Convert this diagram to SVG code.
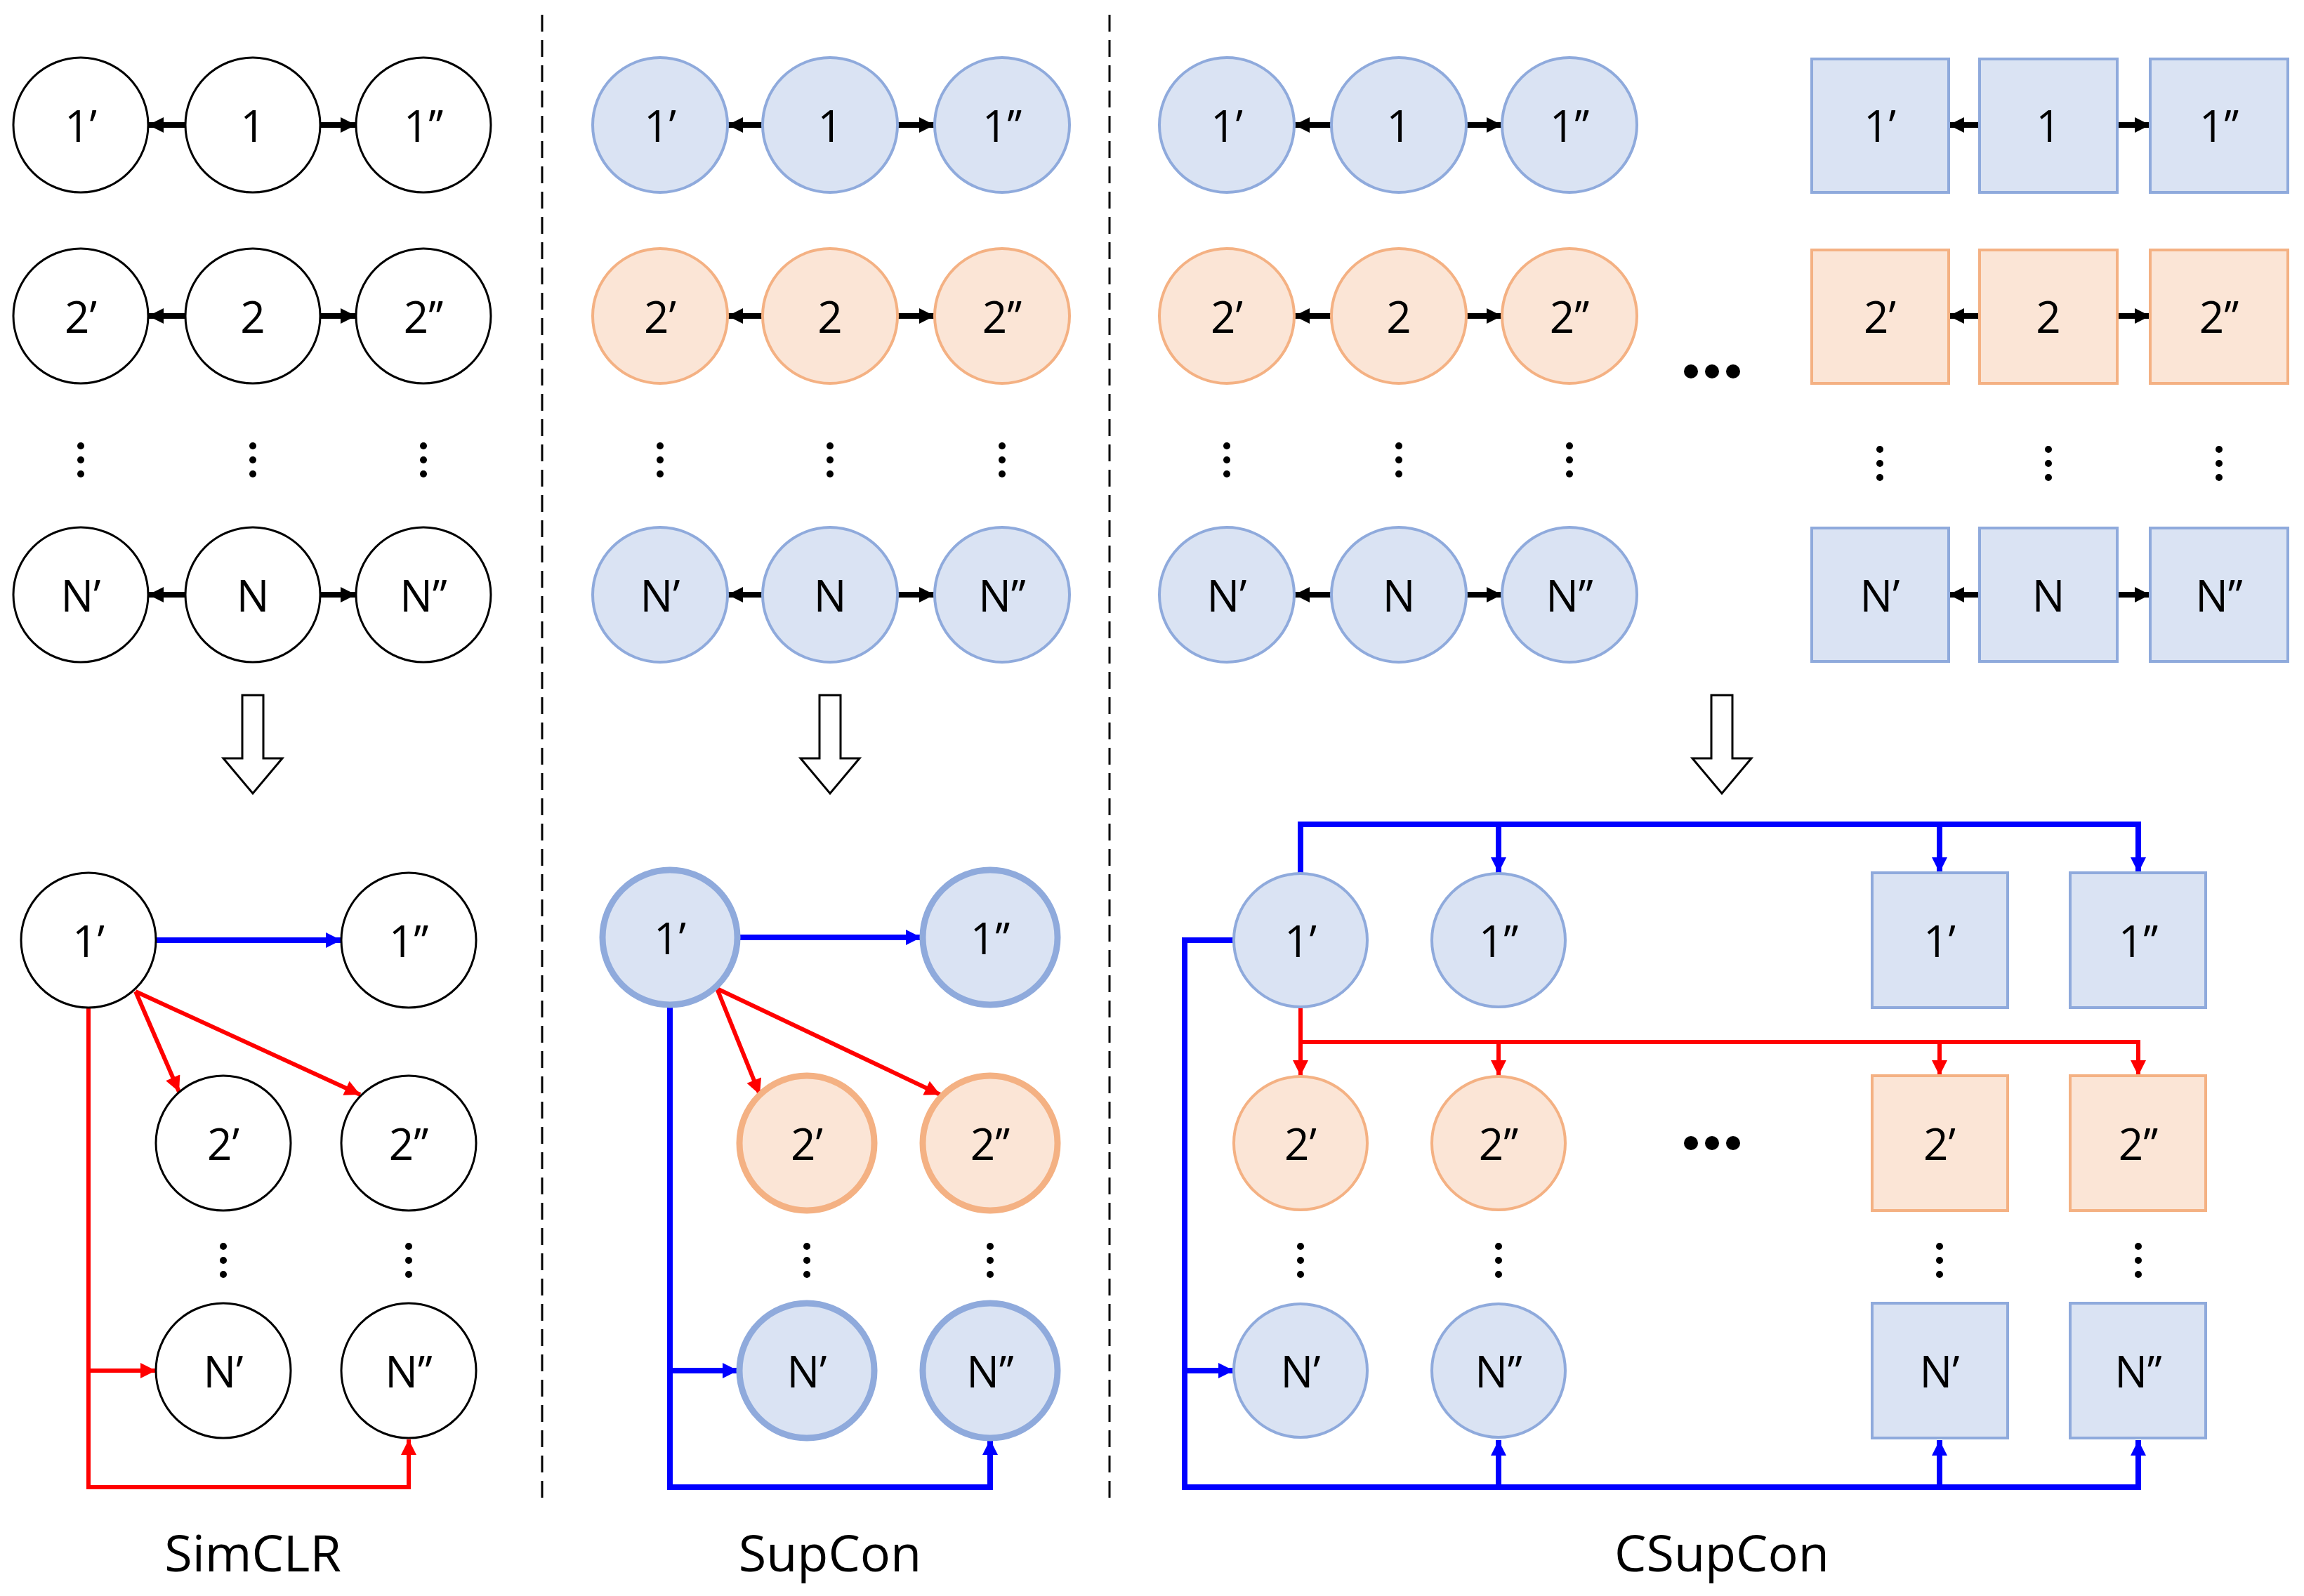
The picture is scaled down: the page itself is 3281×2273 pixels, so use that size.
<svg xmlns="http://www.w3.org/2000/svg" width="3281" height="2273" viewBox="0 0 3281 2273">
<style>
text{font-family:"Open Sans","Liberation Sans",sans-serif;text-anchor:middle;dominant-baseline:central;fill:#000}
.n{font-size:62px}
.lb{font-size:72px}
.w{fill:#fff;stroke:#000;stroke-width:3}
.b{fill:#dae3f3;stroke:#8faadc;stroke-width:4}
.o{fill:#fbe5d6;stroke:#f4b183;stroke-width:4}
.bt{stroke-width:9}
.k{stroke:#000;stroke-width:8;fill:none}
.bl{stroke:#0000ff;stroke-width:8;fill:none}
.rd{stroke:#ff0000;stroke-width:6;fill:none}
.dash{stroke:#000;stroke-width:3;stroke-dasharray:24 12}
.ha{fill:#fff;stroke:#000;stroke-width:3}
</style>
<defs>
<marker id="mk" viewBox="0 0 10 10" refX="10" refY="5" markerUnits="userSpaceOnUse" markerWidth="22" markerHeight="24" orient="auto"><path d="M0,0L10,5L0,10z" fill="#000"/></marker>
<marker id="mb" viewBox="0 0 10 10" refX="10" refY="5" markerUnits="userSpaceOnUse" markerWidth="26" markerHeight="22" orient="auto"><path d="M0,0L10,5L0,10z" fill="#0000ff"/></marker>
<marker id="mr" viewBox="0 0 10 10" refX="10" refY="5" markerUnits="userSpaceOnUse" markerWidth="26" markerHeight="22" orient="auto"><path d="M0,0L10,5L0,10z" fill="#ff0000"/></marker>
<g id="vd"><circle cx="0" cy="-20" r="5"/><circle cx="0" cy="0" r="5"/><circle cx="0" cy="20" r="5"/></g>
<g id="hd"><circle cx="-30" cy="0" r="10"/><circle cx="0" cy="0" r="10"/><circle cx="30" cy="0" r="10"/></g>
<polygon id="ha" class="ha" points="-15,990 15,990 15,1080 42,1080 0,1130 -42,1080 -15,1080"/>
</defs>
<rect width="3281" height="2273" fill="#fff"/>
<line class="dash" x1="772" y1="21" x2="772" y2="2134"/>
<line class="dash" x1="1580" y1="21" x2="1580" y2="2134"/>

<g id="connectors">
<!-- top black arrows -->
<g class="k">
<line x1="264" y1="178" x2="211" y2="178" marker-end="url(#mk)"/><line x1="456" y1="178" x2="507" y2="178" marker-end="url(#mk)"/>
<line x1="264" y1="450" x2="211" y2="450" marker-end="url(#mk)"/><line x1="456" y1="450" x2="507" y2="450" marker-end="url(#mk)"/>
<line x1="264" y1="847" x2="211" y2="847" marker-end="url(#mk)"/><line x1="456" y1="847" x2="507" y2="847" marker-end="url(#mk)"/>
<line x1="1086" y1="178" x2="1036" y2="178" marker-end="url(#mk)"/><line x1="1278" y1="178" x2="1331" y2="178" marker-end="url(#mk)"/>
<line x1="1086" y1="450" x2="1036" y2="450" marker-end="url(#mk)"/><line x1="1278" y1="450" x2="1331" y2="450" marker-end="url(#mk)"/>
<line x1="1086" y1="847" x2="1036" y2="847" marker-end="url(#mk)"/><line x1="1278" y1="847" x2="1331" y2="847" marker-end="url(#mk)"/>
<line x1="1896" y1="178" x2="1843" y2="178" marker-end="url(#mk)"/><line x1="2088" y1="178" x2="2139" y2="178" marker-end="url(#mk)"/>
<line x1="1896" y1="450" x2="1843" y2="450" marker-end="url(#mk)"/><line x1="2088" y1="450" x2="2139" y2="450" marker-end="url(#mk)"/>
<line x1="1896" y1="847" x2="1843" y2="847" marker-end="url(#mk)"/><line x1="2088" y1="847" x2="2139" y2="847" marker-end="url(#mk)"/>
<line x1="2819" y1="178" x2="2775" y2="178" marker-end="url(#mk)"/><line x1="3015" y1="178" x2="3062" y2="178" marker-end="url(#mk)"/>
<line x1="2819" y1="450" x2="2775" y2="450" marker-end="url(#mk)"/><line x1="3015" y1="450" x2="3062" y2="450" marker-end="url(#mk)"/>
<line x1="2819" y1="847" x2="2775" y2="847" marker-end="url(#mk)"/><line x1="3015" y1="847" x2="3062" y2="847" marker-end="url(#mk)"/>
</g>
<!-- SimCLR -->
<line class="bl" x1="222" y1="1339" x2="486" y2="1339" stroke-width="6" marker-end="url(#mb)"/>
<line class="rd" x1="193" y1="1412" x2="255" y2="1555" marker-end="url(#mr)"/>
<line class="rd" x1="193" y1="1412" x2="513" y2="1559" marker-end="url(#mr)"/>
<polyline class="rd" points="126,1435 126,2118 582,2118 582,2050" marker-end="url(#mr)"/>
<line class="rd" x1="126" y1="1952" x2="222" y2="1952" marker-end="url(#mr)"/>
<!-- SupCon -->
<line class="bl" x1="1052" y1="1335" x2="1312" y2="1335" stroke-width="6" marker-end="url(#mb)"/>
<line class="rd" x1="1021" y1="1408" x2="1082" y2="1559" marker-end="url(#mr)"/>
<line class="rd" x1="1021" y1="1408" x2="1339" y2="1559" marker-end="url(#mr)"/>
<polyline class="bl" points="954,1433 954,2118 1410,2118 1410,2050" marker-end="url(#mb)"/>
<line class="bl" x1="954" y1="1952" x2="1051" y2="1952" marker-end="url(#mb)"/>
<!-- CSupCon -->
<polyline class="bl" points="1852,1243 1852,1174 3045,1174 3045,1243" marker-end="url(#mb)"/>
<line class="bl" x1="2134" y1="1174" x2="2134" y2="1243" marker-end="url(#mb)"/>
<line class="bl" x1="2762" y1="1174" x2="2762" y2="1243" marker-end="url(#mb)"/>
<polyline class="rd" points="1852,1435 1852,1484 3045,1484 3045,1532" marker-end="url(#mr)"/>
<line class="rd" x1="1852" y1="1484" x2="1852" y2="1532" marker-end="url(#mr)"/>
<line class="rd" x1="2134" y1="1484" x2="2134" y2="1532" marker-end="url(#mr)"/>
<line class="rd" x1="2762" y1="1484" x2="2762" y2="1532" marker-end="url(#mr)"/>
<polyline class="bl" points="1757,1339 1687,1339 1687,2118 3045,2118 3045,2051" marker-end="url(#mb)"/>
<line class="bl" x1="2134" y1="2118" x2="2134" y2="2051" marker-end="url(#mb)"/>
<line class="bl" x1="2762" y1="2118" x2="2762" y2="2051" marker-end="url(#mb)"/>
<line class="bl" x1="1687" y1="1952" x2="1757" y2="1952" marker-end="url(#mb)"/>
</g>

<!-- SimCLR top -->
<g id="s1p"><circle class="w" cx="115" cy="178" r="96"/><text class="n" x="115" y="178">1’</text></g>
<g id="s1"><circle class="w" cx="360" cy="178" r="96"/><text class="n" x="360" y="178">1</text></g>
<g id="s1pp"><circle class="w" cx="603" cy="178" r="96"/><text class="n" x="603" y="178">1’’</text></g>
<g id="s2p"><circle class="w" cx="115" cy="450" r="96"/><text class="n" x="115" y="450">2’</text></g>
<g id="s2"><circle class="w" cx="360" cy="450" r="96"/><text class="n" x="360" y="450">2</text></g>
<g id="s2pp"><circle class="w" cx="603" cy="450" r="96"/><text class="n" x="603" y="450">2’’</text></g>
<g id="sNp"><circle class="w" cx="115" cy="847" r="96"/><text class="n" x="115" y="847">N’</text></g>
<g id="sN"><circle class="w" cx="360" cy="847" r="96"/><text class="n" x="360" y="847">N</text></g>
<g id="sNpp"><circle class="w" cx="603" cy="847" r="96"/><text class="n" x="603" y="847">N’’</text></g>
<use href="#vd" x="115" y="655"/><use href="#vd" x="360" y="655"/><use href="#vd" x="603" y="655"/>
<use href="#ha" x="360" y="0"/>
<!-- SimCLR bottom -->
<g id="sb1p"><circle class="w" cx="126" cy="1339" r="96"/><text class="n" x="126" y="1339">1’</text></g>
<g id="sb1pp"><circle class="w" cx="582" cy="1339" r="96"/><text class="n" x="582" y="1339">1’’</text></g>
<g id="sb2p"><circle class="w" cx="318" cy="1628" r="96"/><text class="n" x="318" y="1628">2’</text></g>
<g id="sb2pp"><circle class="w" cx="582" cy="1628" r="96"/><text class="n" x="582" y="1628">2’’</text></g>
<g id="sbNp"><circle class="w" cx="318" cy="1952" r="96"/><text class="n" x="318" y="1952">N’</text></g>
<g id="sbNpp"><circle class="w" cx="582" cy="1952" r="96"/><text class="n" x="582" y="1952">N’’</text></g>
<use href="#vd" x="318" y="1795"/><use href="#vd" x="582" y="1795"/>
<text class="lb" x="360" y="2210">SimCLR</text>

<!-- SupCon top -->
<g id="u1p"><circle class="b" cx="940" cy="178" r="96"/><text class="n" x="940" y="178">1’</text></g>
<g id="u1"><circle class="b" cx="1182" cy="178" r="96"/><text class="n" x="1182" y="178">1</text></g>
<g id="u1pp"><circle class="b" cx="1427" cy="178" r="96"/><text class="n" x="1427" y="178">1’’</text></g>
<g id="u2p"><circle class="o" cx="940" cy="450" r="96"/><text class="n" x="940" y="450">2’</text></g>
<g id="u2"><circle class="o" cx="1182" cy="450" r="96"/><text class="n" x="1182" y="450">2</text></g>
<g id="u2pp"><circle class="o" cx="1427" cy="450" r="96"/><text class="n" x="1427" y="450">2’’</text></g>
<g id="uNp"><circle class="b" cx="940" cy="847" r="96"/><text class="n" x="940" y="847">N’</text></g>
<g id="uN"><circle class="b" cx="1182" cy="847" r="96"/><text class="n" x="1182" y="847">N</text></g>
<g id="uNpp"><circle class="b" cx="1427" cy="847" r="96"/><text class="n" x="1427" y="847">N’’</text></g>
<use href="#vd" x="940" y="655"/><use href="#vd" x="1182" y="655"/><use href="#vd" x="1427" y="655"/>
<use href="#ha" x="1182" y="0"/>
<!-- SupCon bottom -->
<g id="ub1p"><circle class="b bt" cx="954" cy="1335" r="96"/><text class="n" x="954" y="1335">1’</text></g>
<g id="ub1pp"><circle class="b bt" cx="1410" cy="1335" r="96"/><text class="n" x="1410" y="1335">1’’</text></g>
<g id="ub2p"><circle class="o bt" cx="1149" cy="1628" r="96"/><text class="n" x="1149" y="1628">2’</text></g>
<g id="ub2pp"><circle class="o bt" cx="1410" cy="1628" r="96"/><text class="n" x="1410" y="1628">2’’</text></g>
<g id="ubNp"><circle class="b bt" cx="1149" cy="1952" r="96"/><text class="n" x="1149" y="1952">N’</text></g>
<g id="ubNpp"><circle class="b bt" cx="1410" cy="1952" r="96"/><text class="n" x="1410" y="1952">N’’</text></g>
<use href="#vd" x="1149" y="1795"/><use href="#vd" x="1410" y="1795"/>
<text class="lb" x="1182" y="2210">SupCon</text>

<!-- CSupCon top -->
<g id="c1p"><circle class="b" cx="1747" cy="178" r="96"/><text class="n" x="1747" y="178">1’</text></g>
<g id="c1"><circle class="b" cx="1992" cy="178" r="96"/><text class="n" x="1992" y="178">1</text></g>
<g id="c1pp"><circle class="b" cx="2235" cy="178" r="96"/><text class="n" x="2235" y="178">1’’</text></g>
<g id="c2p"><circle class="o" cx="1747" cy="450" r="96"/><text class="n" x="1747" y="450">2’</text></g>
<g id="c2"><circle class="o" cx="1992" cy="450" r="96"/><text class="n" x="1992" y="450">2</text></g>
<g id="c2pp"><circle class="o" cx="2235" cy="450" r="96"/><text class="n" x="2235" y="450">2’’</text></g>
<g id="cNp"><circle class="b" cx="1747" cy="847" r="96"/><text class="n" x="1747" y="847">N’</text></g>
<g id="cN"><circle class="b" cx="1992" cy="847" r="96"/><text class="n" x="1992" y="847">N</text></g>
<g id="cNpp"><circle class="b" cx="2235" cy="847" r="96"/><text class="n" x="2235" y="847">N’’</text></g>
<use href="#vd" x="1747" y="655"/><use href="#vd" x="1992" y="655"/><use href="#vd" x="2235" y="655"/>
<g id="q1p"><rect class="b" x="2580" y="84" width="195" height="190"/><text class="n" x="2677" y="178">1’</text></g>
<g id="q1"><rect class="b" x="2819" y="84" width="196" height="190"/><text class="n" x="2917" y="178">1</text></g>
<g id="q1pp"><rect class="b" x="3062" y="84" width="196" height="190"/><text class="n" x="3160" y="178">1’’</text></g>
<g id="q2p"><rect class="o" x="2580" y="356" width="195" height="190"/><text class="n" x="2677" y="450">2’</text></g>
<g id="q2"><rect class="o" x="2819" y="356" width="196" height="190"/><text class="n" x="2917" y="450">2</text></g>
<g id="q2pp"><rect class="o" x="3062" y="356" width="196" height="190"/><text class="n" x="3160" y="450">2’’</text></g>
<g id="qNp"><rect class="b" x="2580" y="752" width="195" height="190"/><text class="n" x="2677" y="847">N’</text></g>
<g id="qN"><rect class="b" x="2819" y="752" width="196" height="190"/><text class="n" x="2917" y="847">N</text></g>
<g id="qNpp"><rect class="b" x="3062" y="752" width="196" height="190"/><text class="n" x="3160" y="847">N’’</text></g>
<use href="#vd" x="2677" y="660"/><use href="#vd" x="2917" y="660"/><use href="#vd" x="3160" y="660"/>
<use href="#hd" x="2438" y="529"/>
<use href="#ha" x="2452" y="0"/>
<!-- CSupCon bottom -->
<g id="cb1p"><circle class="b" cx="1852" cy="1339" r="95" stroke-width="3"/><text class="n" x="1852" y="1339">1’</text></g>
<g id="cb1pp"><circle class="b" cx="2134" cy="1339" r="95" stroke-width="3"/><text class="n" x="2134" y="1339">1’’</text></g>
<g id="cb2p"><circle class="o" cx="1852" cy="1628" r="95" stroke-width="3"/><text class="n" x="1852" y="1628">2’</text></g>
<g id="cb2pp"><circle class="o" cx="2134" cy="1628" r="95" stroke-width="3"/><text class="n" x="2134" y="1628">2’’</text></g>
<g id="cbNp"><circle class="b" cx="1852" cy="1952" r="95" stroke-width="3"/><text class="n" x="1852" y="1952">N’</text></g>
<g id="cbNpp"><circle class="b" cx="2134" cy="1952" r="95" stroke-width="3"/><text class="n" x="2134" y="1952">N’’</text></g>
<g id="qb1p"><rect class="b" x="2666" y="1243" width="193" height="192"/><text class="n" x="2762" y="1339">1’</text></g>
<g id="qb1pp"><rect class="b" x="2948" y="1243" width="193" height="192"/><text class="n" x="3045" y="1339">1’’</text></g>
<g id="qb2p"><rect class="o" x="2666" y="1532" width="193" height="192"/><text class="n" x="2762" y="1628">2’</text></g>
<g id="qb2pp"><rect class="o" x="2948" y="1532" width="193" height="192"/><text class="n" x="3045" y="1628">2’’</text></g>
<g id="qbNp"><rect class="b" x="2666" y="1856" width="193" height="192"/><text class="n" x="2762" y="1952">N’</text></g>
<g id="qbNpp"><rect class="b" x="2948" y="1856" width="193" height="192"/><text class="n" x="3045" y="1952">N’’</text></g>
<use href="#vd" x="1852" y="1795"/><use href="#vd" x="2134" y="1795"/><use href="#vd" x="2762" y="1795"/><use href="#vd" x="3045" y="1795"/>
<use href="#hd" x="2438" y="1628"/>
<text class="lb" x="2452" y="2210">CSupCon</text>
</svg>
